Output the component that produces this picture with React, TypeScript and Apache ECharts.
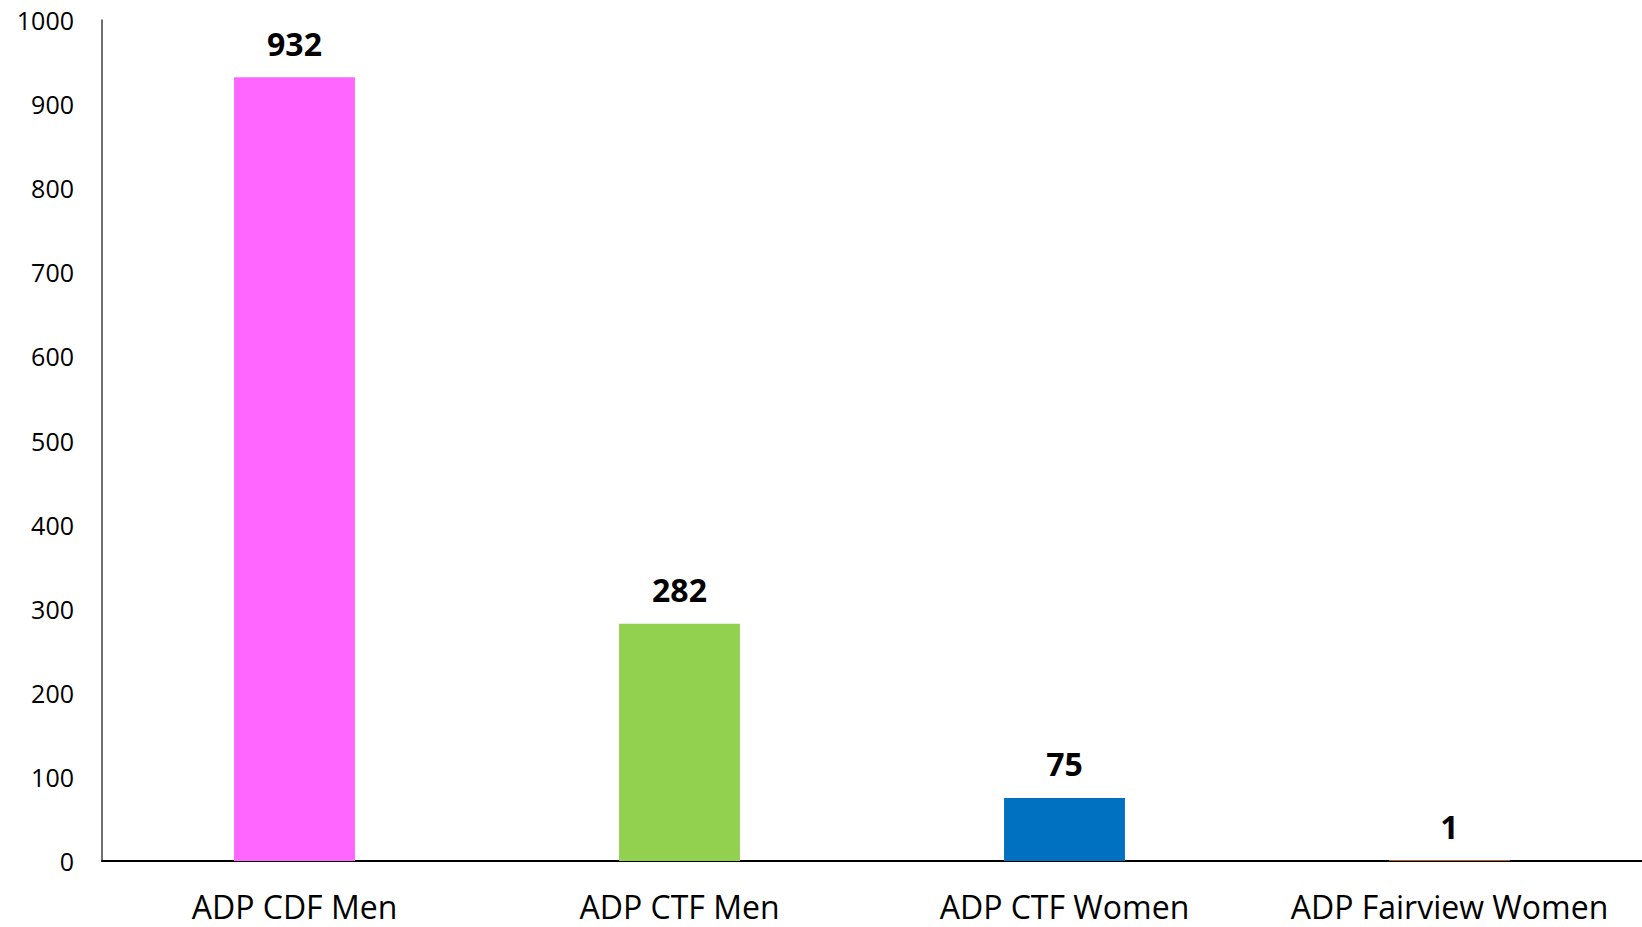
import React, { useEffect, useRef } from "react";
import * as echarts from "echarts";

const categories = ["ADP CDF Men", "ADP CTF Men", "ADP CTF Women", "ADP Fairview Women"];
const values = [932, 282, 75, 1];
const barColors = ["#FF66FF", "#92D050", "#0070C0", "#ED7D31"];
const yMin = 0;
const yMax = 1000;
const yStep = 100;

export default function App() {
  const ref = useRef<HTMLDivElement>(null);
  useEffect(() => {
    if (!ref.current) return;
    const chart = echarts.init(ref.current, null, { renderer: "svg" });
    chart.setOption({
      animation: false,
      backgroundColor: "#ffffff",
      grid: { left: 102, right: 0, top: 20, bottom: 66, containLabel: false },
      xAxis: {
        type: "category",
        data: categories,
        axisLine: { show: true, lineStyle: { color: "#000000", width: 2 } },
        axisTick: { show: false },
        axisLabel: {
          color: "#000000",
          fontFamily: "Open Sans",
          fontSize: 32,
          lineHeight: 30,
          margin: 30,
          interval: 0,
        },
        splitLine: { show: false },
      },
      yAxis: {
        type: "value",
        min: yMin,
        max: yMax,
        interval: yStep,
        axisLine: { show: true, lineStyle: { color: "#404040", width: 1.5 } },
        axisTick: { show: false },
        axisLabel: {
          color: "#000000",
          fontFamily: "Open Sans",
          fontSize: 25,
          margin: 28,
          formatter: (v: number) => String(v),
        },
        splitLine: { show: false },
      },
      series: [
        {
          type: "bar",
          barWidth: "31.4%",
          data: values.map((v, i) => ({ value: v, itemStyle: { color: barColors[i] } })),
          label: {
            show: true,
            position: "top",
            distance: 18,
            color: "#000000",
            fontFamily: "Open Sans",
            fontWeight: "bold",
            fontSize: 32,
            lineHeight: 32,
          },
        },
      ],
    });
    return () => chart.dispose();
  }, []);
  return (
    <div
      ref={ref}
      style={{ position: "fixed", left: 0, top: 0, width: 1642, height: 927, background: "#fff" }}
    />
  );
}
